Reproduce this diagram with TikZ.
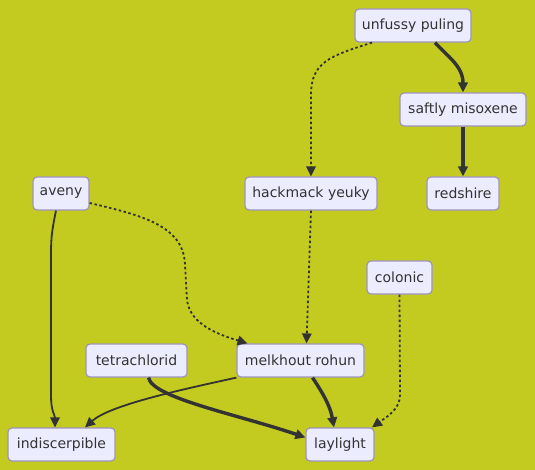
\documentclass[tikz,border=0pt]{standalone}
\usepackage{fontspec}
\setmainfont{DejaVu Sans}
\usetikzlibrary{arrows.meta}
\definecolor{bg}{HTML}{C3CB20}
\definecolor{nodefill}{HTML}{ECECFF}
\definecolor{nodeborder}{HTML}{9E94BE}
\definecolor{textcol}{HTML}{333333}
\definecolor{edgecol}{HTML}{333333}
\begin{document}
\begin{tikzpicture}[x=1pt,y=-1pt,
  box/.style={draw=nodeborder, fill=nodefill, rounded corners=4pt, line width=1.2pt,
    inner sep=0pt, minimum height=33pt, text=textcol, font=\fontsize{14}{16}\selectfont},
  solidedge/.style={draw=edgecol, line width=1.8pt, -{Triangle[length=10pt,width=9.5pt]}},
  thickedge/.style={solidedge, line width=3.4pt},
  dotedge/.style={solidedge, dash pattern=on 2.5pt off 2.5pt}]
\fill[bg] (0,0) rectangle (535,470);
\useasboundingbox (0,0) rectangle (535,470);

\node[box, minimum width=116pt] (up)  at (413,25.5)  {unfussy puling};
\node[box, minimum width=126pt] (saf) at (463,109.5) {saftly misoxene};
\node[box, minimum width=72pt]  (red) at (463,193.5) {redshire};
\node[box, minimum width=132pt] (hy)  at (311,193.5) {hackmack yeuky};
\node[box, minimum width=56pt]  (av)  at (61,193.5)  {aveny};
\node[box, minimum width=65pt]  (col) at (399.5,277.5) {colonic};
\node[box, minimum width=101pt] (tet) at (136.5,360.5) {tetrachlorid};
\node[box, minimum width=127pt] (mr)  at (300.5,360.5) {melkhout rohun};
\node[box, minimum width=107pt] (ind) at (61.5,444.5) {indiscerpible};
\node[box, minimum width=68pt]  (ll)  at (340,444.5) {laylight};

% unfussy -> saftly
\draw[thickedge] ([xshift=22pt]up.south) .. controls (447,56) and (463,66) .. (saf.north);
% unfussy -> hackmack
\draw[dotedge] ([xshift=-41pt]up.south) .. controls (330,56) and (311,62) .. (311,95) -- (hy.north);
% saftly -> redshire
\draw[thickedge] (saf.south) -- (red.north);
% hackmack -> melkhout
\draw[dotedge] (hy.south) -- ([xshift=6pt]mr.north);
% aveny -> melkhout
\draw[dotedge] ([yshift=-9.5pt]av.east) .. controls (140,215) and (184,225) .. (185,265)
  -- (187,300) .. controls (190,325) and (220,335) .. ([xshift=-53pt]mr.north);
% aveny -> indiscerpible
\draw[solidedge] ([xshift=-5pt]av.south) .. controls (51,235) and (51,240) .. (51,260)
  -- (51,395) .. controls (51,412) and (55,415) .. ([xshift=-6.5pt]ind.north);
% colonic -> laylight
\draw[dotedge] (col.south) -- (400,395) .. controls (400,410) and (385,418) .. ([xshift=32pt]ll.north);
% tetrachlorid -> laylight
\draw[thickedge] ([xshift=12pt]tet.south) .. controls (152,398) and (240,415) .. ([yshift=7pt]ll.west);
% melkhout -> indiscerpible
\draw[solidedge] (mr.south west) .. controls (180,390) and (110,405) .. ([xshift=23.5pt]ind.north);
% melkhout -> laylight
\draw[thickedge] ([xshift=12pt]mr.south) .. controls (322,392) and (330,405) .. ([xshift=-6pt]ll.north);
\end{tikzpicture}
\end{document}
